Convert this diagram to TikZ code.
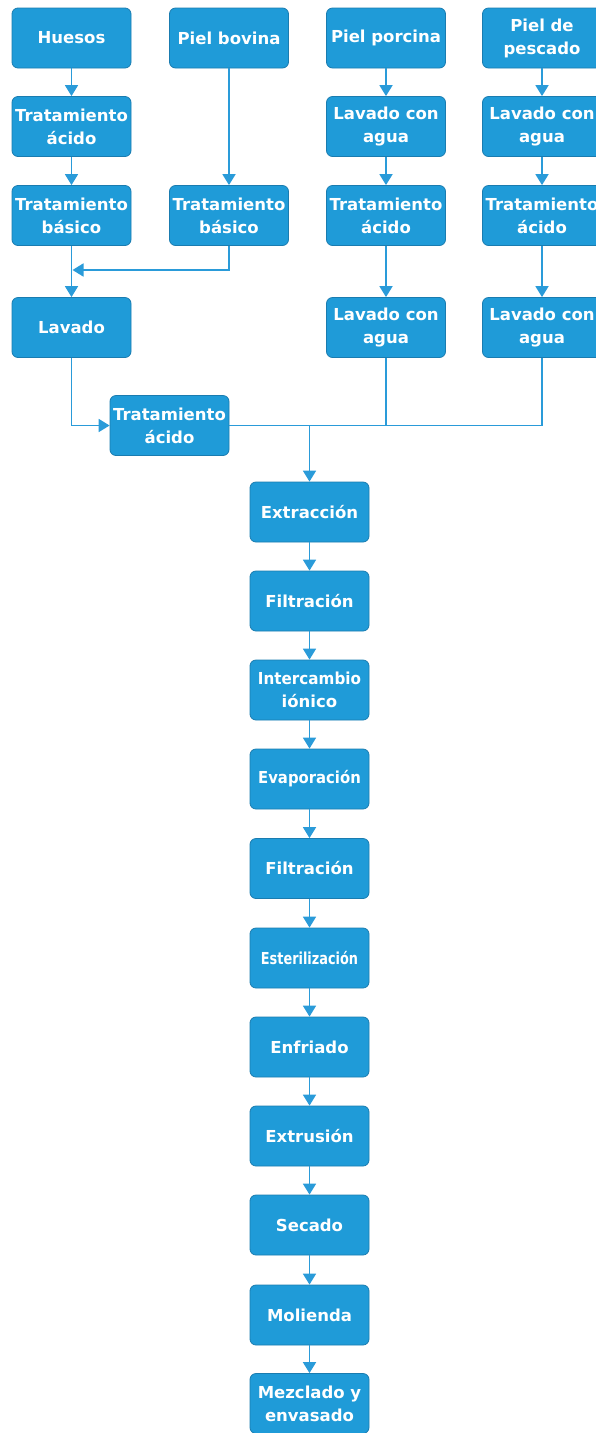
\documentclass[tikz,border=0pt]{standalone}
\usepackage{fontspec}
\setmainfont{DejaVu Sans}
\usetikzlibrary{arrows.meta}
\definecolor{boxfill}{HTML}{1F9BD8}
\definecolor{boxline}{HTML}{1A7CB0}
\definecolor{conn}{HTML}{2A9BD9}
\tikzset{
  procbox/.style={draw=boxline, line width=0.8pt, fill=boxfill, rounded corners=6pt,
    minimum width=119pt, minimum height=60pt, inner sep=0pt, align=center,
    text=white, font=\fontsize{16.5}{23}\selectfont\bfseries},
  link/.style={draw=conn, line width=1.8pt},
  flow/.style={link, -{Triangle[width=13pt,length=11pt]}},
}
\begin{document}
\begin{tikzpicture}[x=1pt,y=-1pt]
\useasboundingbox (0,0) rectangle (596,1433);
% column 1
\node[procbox] (hue) at (71.5,38) {Huesos};
\node[procbox] (hta) at (71.5,126.5) {Tratamiento\\ácido};
\node[procbox] (htb) at (71.5,215.5) {Tratamiento\\básico};
\node[procbox] (lav) at (71.5,327.5) {Lavado};
% column 2
\node[procbox] (bov) at (229,38) {Piel bovina};
\node[procbox] (btb) at (229,215.5) {Tratamiento\\básico};
% column 3
\node[procbox] (por) at (386,38) {Piel porcina};
\node[procbox] (pla) at (386,126.5) {Lavado con\\agua};
\node[procbox] (pta) at (386,215.5) {Tratamiento\\ácido};
\node[procbox] (plb) at (386,327.5) {Lavado con\\agua};
% column 4
\node[procbox] (pes) at (542,38) {Piel de\\pescado};
\node[procbox] (fla) at (542,126.5) {Lavado con\\agua};
\node[procbox] (fta) at (542,215.5) {Tratamiento\\ácido};
\node[procbox] (flb) at (542,327.5) {Lavado con\\agua};
% merged
\node[procbox] (mta) at (169.5,425.5) {Tratamiento\\ácido};
% center column
\node[procbox] (ext) at (309.5,512) {Extracción};
\node[procbox] (fi1) at (309.5,601) {Filtración};
\node[procbox] (ion) at (309.5,690) {\scalebox{0.92}[1]{Intercambio}\\iónico};
\node[procbox] (eva) at (309.5,779) {\scalebox{0.9}[1]{Evaporación}};
\node[procbox] (fi2) at (309.5,868.5) {Filtración};
\node[procbox] (est) at (309.5,958) {\scalebox{0.78}[1]{Esterilización}};
\node[procbox] (enf) at (309.5,1047) {Enfriado};
\node[procbox] (exu) at (309.5,1136) {Extrusión};
\node[procbox] (sec) at (309.5,1225) {Secado};
\node[procbox] (mol) at (309.5,1315) {Molienda};
\node[procbox] (mez) at (309.5,1403.5) {Mezclado y\\envasado};
% coordinates
\coordinate (merge) at (72.5,270);
\coordinate (join) at (309.5,425.5);
% connectors column 1
\draw[flow] (hue) -- (hta);
\draw[flow] (hta) -- (htb);
\draw[flow] (htb) -- (lav);
\draw[flow] (btb.south) |- (merge);
\draw[flow] (bov) -- (btb);
% column 3
\draw[flow] (por) -- (pla);
\draw[flow] (pla) -- (pta);
\draw[flow] (pta) -- (plb);
% column 4
\draw[flow] (pes) -- (fla);
\draw[flow] (fla) -- (fta);
\draw[flow] (fta) -- (flb);
% to merged
\draw[flow] (lav.south) |- (mta.west);
\draw[link] (plb.south) |- (mta.east);
\draw[link] (flb.south) |- (mta.east);
\draw[flow] (join) -- (ext);
% center chain
\draw[flow] (ext) -- (fi1);
\draw[flow] (fi1) -- (ion);
\draw[flow] (ion) -- (eva);
\draw[flow] (eva) -- (fi2);
\draw[flow] (fi2) -- (est);
\draw[flow] (est) -- (enf);
\draw[flow] (enf) -- (exu);
\draw[flow] (exu) -- (sec);
\draw[flow] (sec) -- (mol);
\draw[flow] (mol) -- (mez);
\end{tikzpicture}
\end{document}
